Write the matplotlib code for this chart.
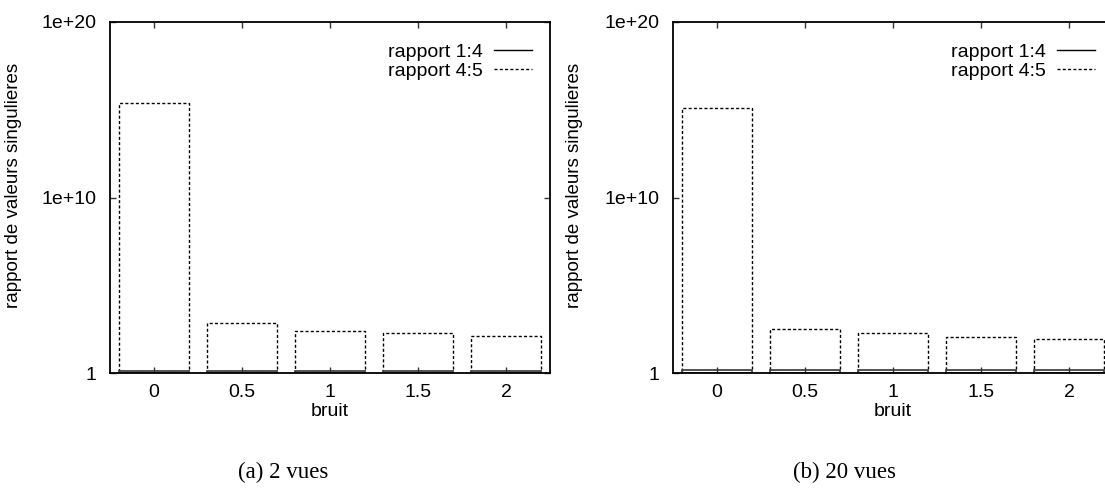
import numpy as np
import matplotlib
matplotlib.use("Agg")
import matplotlib.pyplot as plt
from matplotlib.lines import Line2D

plt.rcParams['font.family'] = ['Liberation Sans', 'DejaVu Sans']

# donnees
bruit = [0, 0.5, 1, 1.5, 2]
xticklabels = ['0', '0.5', '1', '1.5', '2']

# (a) 2 vues
r14_2vues = [1.3, 1.3, 1.3, 1.3, 1.3]
r45_2vues = [2.3e15, 750, 250, 183, 129]

# (b) 20 vues
r14_20vues = [1.5, 1.5, 1.5, 1.5, 1.5]
r45_20vues = [1.2e15, 340, 190, 112, 83]

captions = ['(a) 2 vues', '(b) 20 vues']
DASH = (0, (2.2, 1.6))
FS = 14


def draw_panel(ax, r14, r45):
    x = np.array(bruit)
    # boites depuis 1 (echelle log)
    ax.bar(x, np.array(r45) - 1, bottom=1, width=0.4, fill=False,
           edgecolor='black', linewidth=1, linestyle=DASH)
    ax.bar(x, np.array(r14) - 1, bottom=1, width=0.4, fill=False,
           edgecolor='#444444', linewidth=1.3)
    ax.set_yscale('log')
    ax.set_ylim(1, 1e20)
    ax.set_xlim(-0.25, 2.25)
    ax.set_yticks([1, 1e10, 1e20])
    ax.set_yticklabels(['1', '1e+10', '1e+20'])
    ax.yaxis.set_minor_locator(matplotlib.ticker.NullLocator())
    ax.set_xticks(bruit)
    ax.set_xticklabels(xticklabels)
    ax.tick_params(axis='both', direction='in', length=4, width=1,
                   labelsize=FS, top=True, right=True, color='#333333')
    ax.tick_params(axis='y', pad=10)
    ax.tick_params(axis='x', pad=8)
    for s in ax.spines.values():
        s.set_linewidth(1.3)
    ax.set_xlabel('bruit', fontsize=FS, labelpad=1)
    ax.set_ylabel('rapport de valeurs singulieres', fontsize=13.5)
    ax.yaxis.set_label_coords(-0.2, 0.535)
    handles = [Line2D([], [], color='black', lw=1),
               Line2D([], [], color='black', lw=1, linestyle=DASH)]
    ax.legend(handles, ['rapport 1:4', 'rapport 4:5'], loc='upper right',
              bbox_to_anchor=(0.958, 0.94), frameon=False, markerfirst=False,
              fontsize=FS, labelspacing=0.08, handlelength=1.95,
              handletextpad=0.55, borderpad=0, borderaxespad=0)


fig = plt.figure(figsize=(11.05, 4.95), dpi=100)
W, H = 1105, 495
ax1 = fig.add_axes([110 / W, (H - 373) / H, 440 / W, 351 / H])
ax2 = fig.add_axes([673 / W, (H - 373) / H, 440 / W, 351 / H])

draw_panel(ax1, r14_2vues, r45_2vues)
draw_panel(ax2, r14_20vues, r45_20vues)
ax2.yaxis.set_label_coords(-0.205, 0.535)

fig.text(283 / W, 1 - 472 / H, captions[0], ha='center', va='center',
         fontsize=16.5, family=['Liberation Serif', 'DejaVu Serif'])
fig.text(845 / W, 1 - 472 / H, captions[1], ha='center', va='center',
         fontsize=16.5, family=['Liberation Serif', 'DejaVu Serif'])

fig.savefig('out.png', dpi=100)
